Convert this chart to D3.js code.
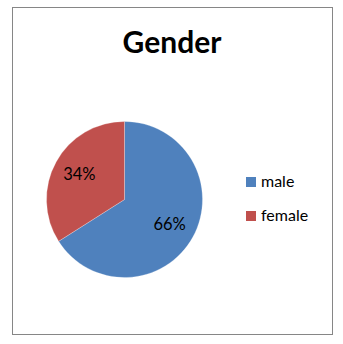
<!DOCTYPE html>
<html><head><meta charset="utf-8">
<script src="https://cdn.jsdelivr.net/npm/d3@7"></script>
<style>html,body{margin:0;padding:0;background:#fff;}svg{display:block;}</style>
</head><body>
<script>
const categories = ["male", "female"];
const values = [66, 34];
const labels = ["66%", "34%"];
const colors = ["#4F81BD", "#C0504D"];
const title = "Gender";

const W = 343, H = 344;
const svg = d3.select("body").append("svg").attr("width", W).attr("height", H);
svg.append("rect").attr("x", 12.5).attr("y", 7.5).attr("width", 320).attr("height", 327)
  .attr("fill", "#fff").attr("stroke", "#868686").attr("stroke-width", 1);

svg.append("text").attr("x", 172).attr("y", 53).attr("text-anchor", "middle")
  .attr("font-family", "Lato, 'Open Sans', sans-serif").attr("font-weight", "bold")
  .attr("font-size", 30).attr("fill", "#000").text(title);

const cx = 124.5, cy = 199.5, r = 78;
const pie = d3.pie().sort(null).value(d => d)(values);
const arc = d3.arc().innerRadius(0).outerRadius(r);
const labelArc = d3.arc().innerRadius(r * 0.66).outerRadius(r * 0.66);
const g = svg.append("g").attr("transform", `translate(${cx},${cy})`);
g.selectAll("path").data(pie).join("path")
  .attr("d", arc).attr("fill", (d, i) => colors[i])
  .attr("stroke", "rgba(255,255,255,0.5)").attr("stroke-width", 0.5);
g.selectAll("text").data(pie).join("text")
  .attr("transform", d => `translate(${labelArc.centroid(d)})`)
  .attr("text-anchor", "middle").attr("dy", "0.35em")
  .attr("font-family", "Lato, 'Open Sans', sans-serif").attr("font-size", 16.5)
  .attr("fill", "#000").text((d, i) => labels[i]);

const leg = svg.append("g");
categories.forEach((c, i) => {
  const y = 177 + i * 34;
  leg.append("rect").attr("x", 246).attr("y", y).attr("width", 10).attr("height", 10).attr("fill", colors[i]);
  leg.append("text").attr("x", 261).attr("y", y + 10).attr("font-family", "Lato, 'Open Sans', sans-serif")
    .attr("font-size", 16).attr("fill", "#000").text(c);
});
</script>
</body></html>
